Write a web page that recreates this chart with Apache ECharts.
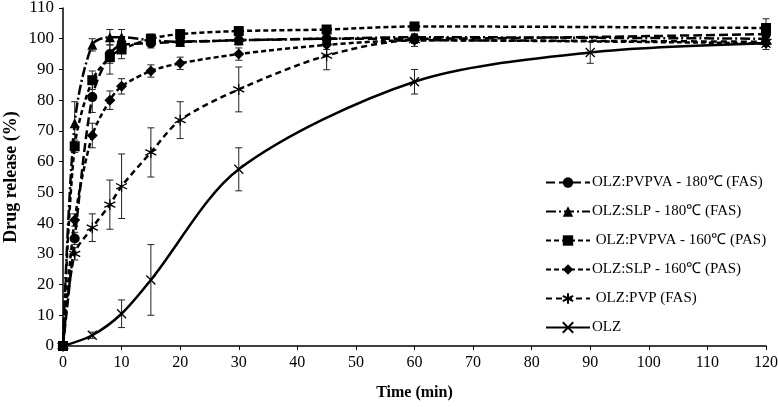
<!DOCTYPE html>
<html>
<head>
<meta charset="utf-8">
<script src="https://cdn.jsdelivr.net/npm/echarts@6/dist/echarts.min.js"></script>
<style>html,body{margin:0;padding:0;background:#fff}#c{width:778px;height:407px}</style>
</head>
<body>
<div id="c"></div>
<script>
// ---- data ----
var times = [0, 2, 5, 8, 10, 15, 20, 30, 45, 60, 120];
var timesOLZ = [0, 5, 10, 15, 30, 60, 90, 120];

var pvpva180 = [0, 35, 81, 95, 98, 98.5, 99, 99.5, 100, 100, 101.5];
var pvpva180Err = [0, 2, 5, 3, 2, 1.5, 1.5, 1.5, 1.5, 1.5, 1.5];

var slp180 = [0, 72.5, 98, 100.5, 100.5, 99.5, 99, 99.5, 100, 100.5, 100];
var slp180Err = [0, 7, 2, 2.5, 2.5, 1.5, 1.5, 1, 1, 1, 1];

var pvpva160 = [0, 65, 86.5, 94, 96.5, 100, 101.5, 102.5, 103, 104, 103.5];
var pvpva160Err = [0, 2, 3, 5.5, 3, 1.5, 1.5, 1, 1, 1, 3];

var slp160 = [0, 41, 68.5, 80, 84.5, 89.5, 92, 95, 98, 99.5, 98.5];
var slp160Err = [0, 2, 4, 3, 2.5, 2, 2, 2, 1.5, 1, 1];

var pvp = [0, 30, 38.5, 46, 52, 63, 73.5, 83.5, 94.5, 99.5, 99];
var pvpErr = [0, 2, 4.5, 8, 10.5, 8, 6, 7.3, 4.6, 2, 1.5];

var olz = [0, 3.5, 10.5, 21.5, 57.5, 86, 95.5, 98.5];
var olzErr = [0, 1, 4.5, 11.5, 7, 4, 3.5, 2];

var names = ['OLZ:PVPVA - 180\u2103 (FAS)', 'OLZ:SLP - 180\u2103 (FAS)', ' OLZ:PVPVA - 160\u2103 (PAS)', 'OLZ:SLP - 160\u2103 (PAS)', ' OLZ:PVP (FAS)', 'OLZ'];
var xTicks = [0, 10, 20, 30, 40, 50, 60, 70, 80, 90, 100, 110, 120];
var yTicks = [0, 10, 20, 30, 40, 50, 60, 70, 80, 90, 100, 110];

// ---- build ----
var FONT = 'Liberation Serif';
function pairs(xs, ys) { return xs.map(function (x, i) { return [x, ys[i]]; }); }
function triples(xs, ys, es) { return xs.map(function (x, i) { return [x, ys[i], es[i]]; }); }

var asterisk = 'path://M0,-10L0,10M-8.66,-5L8.66,5M-8.66,5L8.66,-5';
var cross = 'path://M-8,-8L8,8M-8,8L8,-8';

var defs = [
  { name: names[0], xs: times, ys: pvpva180, es: pvpva180Err, symbol: 'circle', size: 10, dash: [9, 4] },
  { name: names[1], xs: times, ys: slp180, es: slp180Err, symbol: 'triangle', size: 10, dash: [10, 3, 2, 3] },
  { name: names[2], xs: times, ys: pvpva160, es: pvpva160Err, symbol: 'rect', size: 10, dash: [5, 3] },
  { name: names[3], xs: times, ys: slp160, es: slp160Err, symbol: 'diamond', size: 11, dash: [5, 3] },
  { name: names[4], xs: times, ys: pvp, es: pvpErr, symbol: asterisk, size: 11, dash: [6, 4], stroke: true },
  { name: names[5], xs: timesOLZ, ys: olz, es: olzErr, symbol: cross, size: 9, dash: 'solid', stroke: true }
];

function errRender(params, api) {
  var x = api.value(0), y = api.value(1), e = api.value(2);
  if (!e) return null;
  var top = api.coord([x, y + e]);
  var bot = api.coord([x, y - e]);
  var w = 3.5;
  var st = { stroke: '#222', lineWidth: 1 };
  return {
    type: 'group',
    children: [
      { type: 'line', shape: { x1: top[0], y1: top[1], x2: bot[0], y2: bot[1] }, style: st },
      { type: 'line', shape: { x1: top[0] - w, y1: top[1], x2: top[0] + w, y2: top[1] }, style: st },
      { type: 'line', shape: { x1: bot[0] - w, y1: bot[1], x2: bot[0] + w, y2: bot[1] }, style: st }
    ]
  };
}

var series = [];
defs.forEach(function (d) {
  series.push({
    type: 'custom',
    renderItem: errRender,
    data: triples(d.xs, d.ys, d.es),
    z: 1,
    silent: true
  });
});
defs.forEach(function (d) {
  series.push({
    name: d.name,
    type: 'line',
    data: pairs(d.xs, d.ys),
    smooth: 0.3,
    symbol: d.symbol,
    symbolSize: d.size,
    showAllSymbol: true,
    lineStyle: { color: '#000', width: 2.5, type: d.dash },
    itemStyle: d.stroke ? { color: 'rgba(0,0,0,0)', borderColor: '#000', borderWidth: 1.3 } : { color: '#000', borderColor: '#000', borderWidth: 0 },
    z: 2
  });
});

var chart = echarts.init(document.getElementById('c'), null, { renderer: 'canvas' });
chart.setOption({
  animation: false,
  backgroundColor: '#fff',
  textStyle: { fontFamily: FONT },
  grid: { left: 63, right: 12, top: 8, bottom: 61, containLabel: false, outerBoundsMode: 'none' },
  xAxis: {
    type: 'value', min: 0, max: 120, interval: 10,
    name: 'Time (min)', nameLocation: 'middle', nameGap: 39,
    nameTextStyle: { fontFamily: FONT, fontSize: 16, fontWeight: 'bold', color: '#000' },
    axisLine: { lineStyle: { color: '#000', width: 1.5 } },
    axisTick: { show: true, inside: false, length: 4, lineStyle: { color: '#000' } },
    axisLabel: { fontFamily: FONT, fontSize: 16, color: '#000', margin: 9,
      formatter: function (v) { return xTicks.indexOf(v) >= 0 ? String(v) : ''; } },
    splitLine: { show: false }
  },
  yAxis: {
    type: 'value', min: 0, max: 110, interval: 10,
    name: 'Drug release (%)', nameLocation: 'middle', nameGap: 43, nameMoveOverlap: false,
    nameTextStyle: { fontFamily: FONT, fontSize: 18, fontWeight: 'bold', color: '#000' },
    axisLine: { show: true, lineStyle: { color: '#000', width: 1.5 } },
    axisTick: { show: true, inside: false, length: 4, lineStyle: { color: '#000' } },
    axisLabel: { fontFamily: FONT, fontSize: 17, color: '#000', margin: 9,
      formatter: function (v) { return yTicks.indexOf(v) >= 0 ? String(v) : ''; } },
    splitLine: { show: false }
  },
  legend: {
    data: names,
    orient: 'vertical',
    left: 540, top: 170,
    itemWidth: 44, itemHeight: 13, itemGap: 14,
    textStyle: { fontFamily: FONT, fontSize: 15, color: '#000', padding: [0, 0, 0, -3] },
    inactiveColor: '#000'
  },
  series: series
});
</script>
</body>
</html>
